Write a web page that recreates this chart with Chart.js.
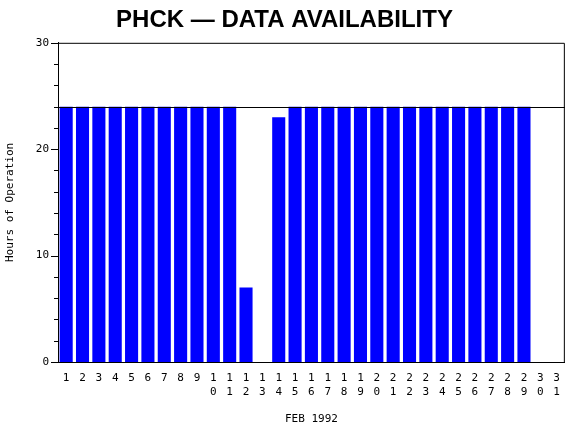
<!DOCTYPE html>
<html><head><script src="https://cdn.jsdelivr.net/npm/chart.js@4"></script>
<style>body{margin:0;background:#fff}#w{width:570px;height:430px}</style></head>
<body><div id="w"><canvas id="c"></canvas></div>
<script>
const days = ["1","2","3","4","5","6","7","8","9","10","11","12","13","14","15","16","17","18","19","20","21","22","23","24","25","26","27","28","29","30","31"];
const hours = [24,24,24,24,24,24,24,24,24,24,24,7,0,23,24,24,24,24,24,24,24,24,24,24,24,24,24,24,24,0,0];
const yTicks = [0,10,20,30];
const refLine = 24;
const f = {family:"DejaVu Sans Mono", size:11};
const extras = {id:'extras', afterDatasetsDraw(ch){
  const {ctx,chartArea:a,scales:{y}} = ch;
  ctx.save(); ctx.strokeStyle='#000'; ctx.lineWidth=1;
  const yy=Math.round(y.getPixelForValue(refLine))+0.5;
  ctx.beginPath(); ctx.moveTo(a.left,yy); ctx.lineTo(a.right,yy);
  ctx.moveTo(a.left,a.top+0.5); ctx.lineTo(a.right-0.5,a.top+0.5); ctx.lineTo(a.right-0.5,a.bottom);
  ctx.stroke();
  // minor ticks
  for(let v=0; v<=30; v+=2){ const p=Math.round(y.getPixelForValue(v))+0.5; const len = v%10===0?7:4;
    ctx.beginPath(); ctx.moveTo(a.left-len,p); ctx.lineTo(a.left,p); ctx.stroke(); }
  ctx.restore();
}};
new Chart(document.getElementById('c'), {
  type:'bar',
  data:{labels:days.map(d=>d.split('')), datasets:[{data:hours, backgroundColor:'#0000ff', barPercentage:0.8, categoryPercentage:1}]},
  options:{responsive:true, maintainAspectRatio:false, animation:false,
    layout:{padding:{right:1}},
    plugins:{legend:{display:false}, tooltip:{enabled:false},
      title:{display:true, text:'PHCK — DATA AVAILABILITY', color:'#000', font:{family:'Liberation Sans', size:24}, padding:{top:6,bottom:8}}},
    scales:{
      x:{grid:{display:false, drawTicks:false}, border:{color:'#000'},
        ticks:{color:'#000', font:f, maxRotation:0, autoSkip:false, padding:10},
        title:{display:true, text:'FEB 1992', color:'#000', font:f, padding:{top:10}},
        afterFit(s){s.height=68;}},
      y:{min:0,max:30, afterBuildTicks(s){s.ticks=yTicks.map(v=>({value:v}));},
        grid:{display:false, drawTicks:false}, border:{color:'#000'},
        ticks:{color:'#000', font:f, padding:9},
        title:{display:true, text:'Hours of Operation', color:'#000', font:f},
        afterFit(s){s.width=58;}}
    }},
  plugins:[extras]
});
</script></body></html>
